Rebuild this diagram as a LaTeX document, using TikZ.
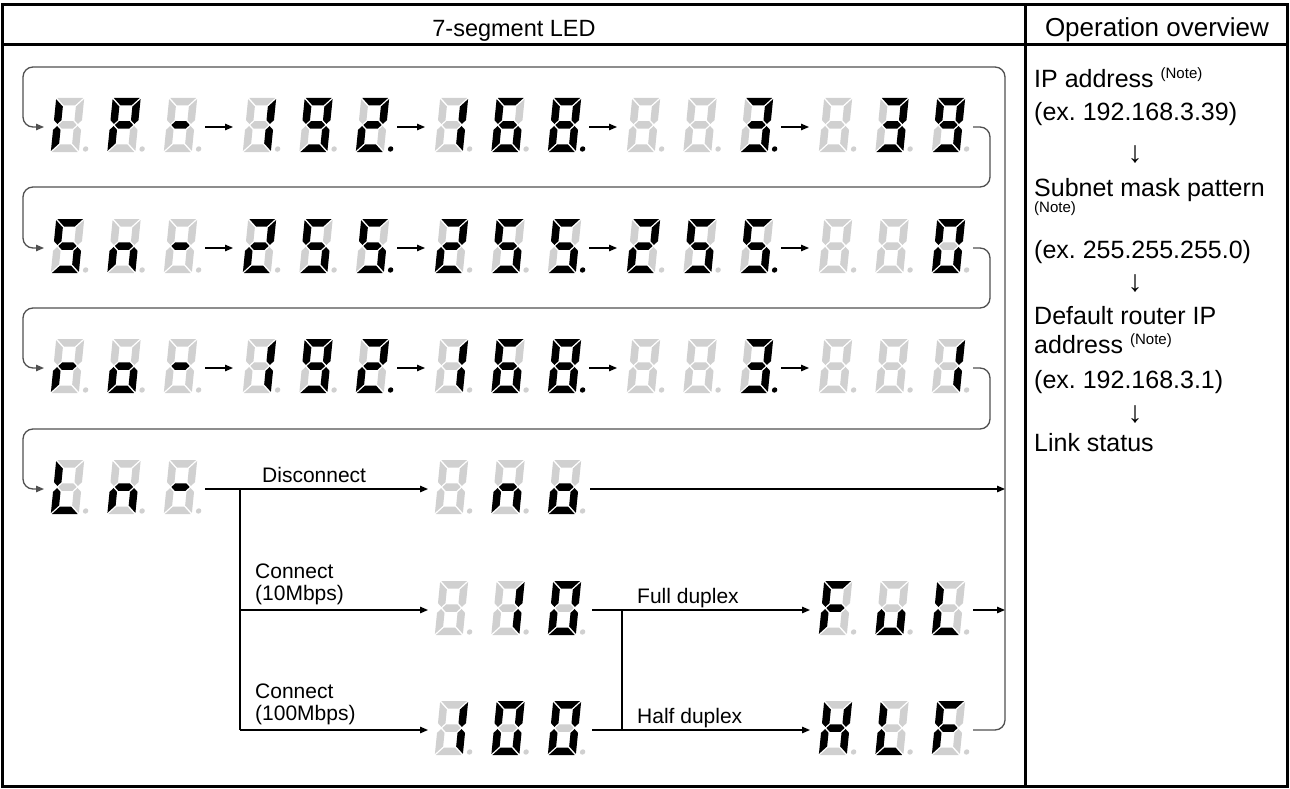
\documentclass[tikz,border=0pt]{standalone}
\usepackage{fontspec}
\setmainfont{Liberation Sans}
\usetikzlibrary{arrows.meta}
\definecolor{ledgray}{RGB}{208,208,208}
\definecolor{loopgray}{RGB}{80,80,80}
\frenchspacing
\makeatletter
\newcommand\drawseg[3]{\in@{#1}{#2}\ifin@\fill[black]#3;\else\fill[ledgray]#3;\fi}
\makeatother
% segment geometry: half width 14, half height 27, thickness 7.5, gap 1.1
\newcommand\leddigit[4]{%
  \begin{scope}[shift={(#1,#2-2)},xslant=0.1]
    \drawseg{a}{#3}{(-12.9,-27) -- (12.9,-27) -- (5.4,-19.5) -- (-5.4,-19.5) -- cycle}
    \drawseg{d}{#3}{(-12.9,27) -- (12.9,27) -- (5.4,19.5) -- (-5.4,19.5) -- cycle}
    \drawseg{g}{#3}{(-9.15,0) -- (-5.4,-3.75) -- (5.4,-3.75) -- (9.15,0) -- (5.4,3.75) -- (-5.4,3.75) -- cycle}
    \drawseg{f}{#3}{(-14,-25.9) -- (-6.5,-18.4) -- (-6.5,-4.85) -- (-10.25,-1.1) -- (-14,-4.85) -- cycle}
    \drawseg{e}{#3}{(-14,25.9) -- (-6.5,18.4) -- (-6.5,4.85) -- (-10.25,1.1) -- (-14,4.85) -- cycle}
    \drawseg{b}{#3}{(14,-25.9) -- (6.5,-18.4) -- (6.5,-4.85) -- (10.25,-1.1) -- (14,-4.85) -- cycle}
    \drawseg{c}{#3}{(14,25.9) -- (6.5,18.4) -- (6.5,4.85) -- (10.25,1.1) -- (14,4.85) -- cycle}
    \fill[#4] (20.5,24) circle (2.7pt);
  \end{scope}}
% #1 centre x of first digit, #2 y, #3-#5 segments, #6 colour of last dot
\newcommand\ledgroup[6]{%
  \leddigit{#1}{#2}{#3}{ledgray}%
  \leddigit{#1+56.5}{#2}{#4}{ledgray}%
  \leddigit{#1+113}{#2}{#5}{#6}}
\tikzset{
  conn/.style={line width=1.3pt, draw=black},
  loopln/.style={line width=1.3pt, draw=loopgray, rounded corners=10pt},
  tip/.style={-{Triangle[length=8pt,width=6.5pt]}},
  lbl/.style={inner sep=0pt, anchor=base west, font=\fontsize{21}{21}\selectfont},
  rc/.style={inner sep=0pt, anchor=base west, font=\fontsize{25}{25}\selectfont},
  darr/.style={inner sep=0pt, anchor=center, font=\fontsize{30}{30}\selectfont},
  hdr/.style={inner sep=0pt, anchor=base, font=\fontsize{24}{24}\selectfont},
  frame/.style={line width=3pt, draw=black},
}
\begin{document}
\begin{tikzpicture}[x=1pt,y=-1pt]
\useasboundingbox (0,0) rectangle (1290,789);
\fill[white] (0,0) rectangle (1290,789);
% table
\draw[frame] (2.5,5) rectangle (1287,786.5);
\draw[frame] (2.5,45) -- (1287,45);
\draw[frame] (1025,5) -- (1025,786.5);
\node[hdr,font=\fontsize{23.5}{23.5}\selectfont] (h1) at (514,37) {7-segment LED};
\node[hdr,font=\fontsize{26}{26}\selectfont] (h2) at (1157,37) {Operation overview};
% right column
\node[rc] (t1) at (1034,88) {IP address \raisebox{9pt}{\fontsize{15}{15}\selectfont(Note)}};
\node[rc] (t2) at (1034,121) {(ex. 192.168.3.39)};
\node[darr] (d1) at (1135,155) {↓};
\node[rc] (t3) at (1034,196) {Subnet mask pattern};
\node[rc,font=\fontsize{15}{15}\selectfont] (t4) at (1034,212) {(Note)};
\node[rc] (t5) at (1034,258) {(ex. 255.255.255.0)};
\node[darr] (d2) at (1135,284) {↓};
\node[rc] (t6) at (1034,324) {Default router IP};
\node[rc] (t7) at (1034,353) {address \raisebox{9pt}{\fontsize{15}{15}\selectfont(Note)}};
\node[rc] (t8) at (1034,388) {(ex. 192.168.3.1)};
\node[darr] (d3) at (1135,415) {↓};
\node[rc] (t9) at (1034,451) {Link status};
% LED rows
\ledgroup{67.5}{127}{ef}{abefg}{g}{ledgray}
\ledgroup{259.5}{127}{bc}{abcdfg}{abdeg}{black}
\ledgroup{451.5}{127}{bc}{acdefg}{abcdefg}{black}
\ledgroup{643.5}{127}{}{}{abcdg}{black}
\ledgroup{835.5}{127}{}{abcdg}{abcdfg}{ledgray}
\ledgroup{67.5}{248}{acdfg}{ceg}{g}{ledgray}
\ledgroup{259.5}{248}{abdeg}{acdfg}{acdfg}{black}
\ledgroup{451.5}{248}{abdeg}{acdfg}{acdfg}{black}
\ledgroup{643.5}{248}{abdeg}{acdfg}{acdfg}{black}
\ledgroup{835.5}{248}{}{}{abcdef}{ledgray}
\ledgroup{67.5}{368}{eg}{cdeg}{g}{ledgray}
\ledgroup{259.5}{368}{bc}{abcdfg}{abdeg}{black}
\ledgroup{451.5}{368}{bc}{acdefg}{abcdefg}{black}
\ledgroup{643.5}{368}{}{}{abcdg}{black}
\ledgroup{835.5}{368}{}{}{bc}{ledgray}
\ledgroup{67.5}{489}{def}{ceg}{g}{ledgray}
\ledgroup{451.5}{489}{}{ceg}{cdeg}{ledgray}
\ledgroup{451.5}{610}{}{bc}{abcdef}{ledgray}
\ledgroup{835.5}{610}{aefg}{cde}{def}{ledgray}
\ledgroup{451.5}{730}{bc}{abcdef}{abcdef}{ledgray}
\ledgroup{835.5}{730}{bcefg}{def}{aefg}{ledgray}
% arrows between groups in rows 1-3
\foreach \r/\y in {1/127,2/248,3/368}{
  \foreach \k in {0,...,3}{
    \coordinate (o\r\k) at ({205+192*\k},\y);
    \coordinate (i\r\k) at ({233+192*\k},\y);
    \draw[conn,tip] (o\r\k) -- (i\r\k);
  }
  \coordinate (in\r) at (44,\y);
  \coordinate (end\r) at (973,\y);
}
\coordinate (in4) at (44,489);
% return loops
\draw[loopln,tip] (end1) -- (990,127) -- (990,187) -- (23,187) -- (23,248) -- (in2);
\draw[loopln,tip] (end2) -- (990,248) -- (990,308) -- (23,308) -- (23,368) -- (in3);
\draw[loopln,tip] (end3) -- (990,368) -- (990,429) -- (23,429) -- (23,489) -- (in4);
% row 4 branches
\coordinate (ln) at (205,489);
\coordinate (br1) at (240,489);
\coordinate (br2) at (240,610);
\coordinate (br3) at (240,730);
\coordinate (dis) at (428,489);
\coordinate (c10) at (428,610);
\coordinate (c100) at (428,730);
\coordinate (disout) at (590,489);
\coordinate (c10out) at (592,610);
\coordinate (c100out) at (592,730);
\coordinate (fb1) at (622,610);
\coordinate (fb2) at (622,730);
\coordinate (ful) at (810,610);
\coordinate (hlf) at (810,730);
\coordinate (fulout) at (973,610);
\coordinate (hlfout) at (973,730);
\coordinate (rv1) at (1005,489);
\coordinate (rv2) at (1005,610);
\draw[conn,tip] (ln) -- (dis);
\draw[conn] (br1) -- (br3);
\draw[conn,tip] (br2) -- (c10);
\draw[conn,tip] (br3) -- (c100);
\draw[conn,tip] (disout) -- (rv1);
\draw[conn,tip] (c10out) -- (ful);
\draw[conn,tip] (c100out) -- (hlf);
\draw[conn] (fb1) -- (fb2);
\draw[conn,tip] (fulout) -- (rv2);
% outer loop
\draw[loopln,tip] (hlfout) -- (1005,730) -- (1005,67) -- (23,67) -- (23,127) -- (in1);
% labels
\node[lbl] (l1) at (262,482) {Disconnect};
\node[lbl] (l2) at (255,578) {Connect};
\node[lbl] (l3) at (255,600) {(10Mbps)};
\node[lbl] (l4) at (255,698) {Connect};
\node[lbl] (l5) at (255,720) {(100Mbps)};
\node[lbl] (l6) at (637,603) {Full duplex};
\node[lbl] (l7) at (637,723) {Half duplex};
\end{tikzpicture}
\end{document}
